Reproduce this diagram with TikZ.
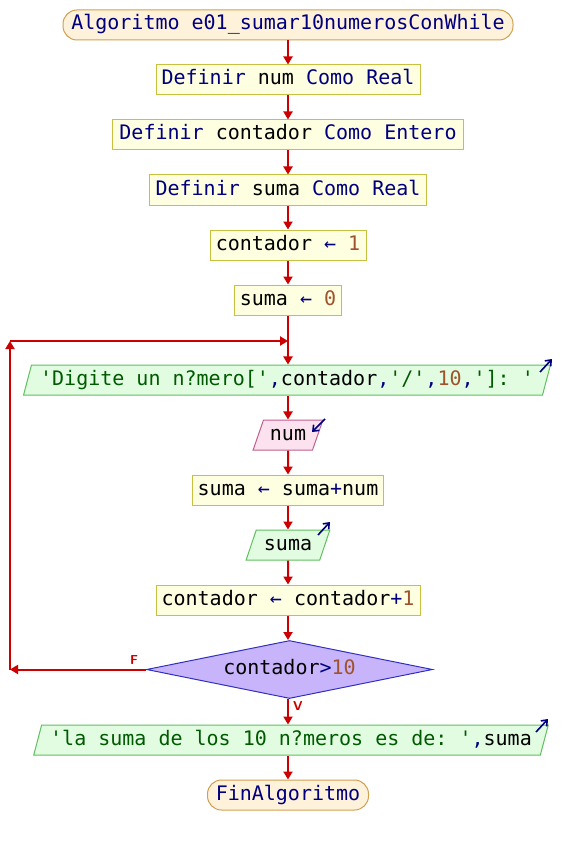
\documentclass[tikz,border=0pt]{standalone}
\usepackage{fontspec}
\setmonofont{DejaVu Sans Mono}
\usetikzlibrary{arrows.meta,shapes.geometric}

\definecolor{kwcol}{HTML}{00007F}
\definecolor{numcol}{HTML}{A0522D}
\definecolor{strcol}{HTML}{005A00}
\definecolor{flowcol}{HTML}{CC0000}
\definecolor{procfill}{HTML}{FEFEE0}
\definecolor{procline}{HTML}{C8C040}
\definecolor{termfill}{HTML}{FEF2DA}
\definecolor{termline}{HTML}{D0A050}
\definecolor{outfill}{HTML}{E2FCE2}
\definecolor{outline}{HTML}{60C060}
\definecolor{infill}{HTML}{FCE2EE}
\definecolor{inline}{HTML}{C06090}
\definecolor{decfill}{HTML}{C8B4FA}
\definecolor{decline}{HTML}{3030C0}

% token colouring for pseudo-code
\newcommand{\kw}[1]{\textcolor{kwcol}{#1}}
\newcommand{\nm}[1]{\textcolor{numcol}{#1}}
\newcommand{\str}[1]{\textcolor{strcol}{#1}}
\newcommand{\vr}[1]{\textcolor{black}{#1}}

\tikzset{
  base/.style={font=\ttfamily\fontsize{20}{24}\selectfont, inner sep=0pt, minimum height=30, text height=14, text depth=4},
  procbox/.style={base, draw=procline, fill=procfill, line width=1},
  termbox/.style={base, draw=termline, fill=termfill, line width=1, rounded corners=14},
  outbox/.style={base, shape=trapezium, trapezium left angle=67, trapezium right angle=113,
    trapezium stretches=true, draw=outline, fill=outfill, line width=1},
  inbox/.style={base, shape=trapezium, trapezium left angle=67, trapezium right angle=113,
    trapezium stretches=true, draw=inline, fill=infill, line width=1},
  decbox/.style={base, shape=diamond, aspect=5, draw=decline, fill=decfill, line width=1},
  flow/.style={draw=flowcol, line width=2, -{Triangle[length=8,width=9]}},
  ioarrow/.style={draw=kwcol, line width=1.6, -{Straight Barb[length=5,width=8]}},
  branch/.style={text=flowcol, font=\sffamily\bfseries\fontsize{13}{15}\selectfont, inner sep=0pt}
}

\begin{document}
\begin{tikzpicture}[x=1pt, y=-1pt]
\useasboundingbox[fill=white] (0,0) rectangle (576,845);

% nodes of the flowchart
\node[termbox, minimum width=450] (start) at (288,25) {\kw{Algoritmo e01\_sumar10numerosConWhile}};
\node[procbox, minimum width=264] (d1) at (288,80) {\kw{Definir} \vr{num} \kw{Como Real}};
\node[procbox, minimum width=351] (d2) at (288,135) {\kw{Definir} \vr{contador} \kw{Como Entero}};
\node[procbox, minimum width=277] (d3) at (288,190) {\kw{Definir} \vr{suma} \kw{Como Real}};
\node[procbox, minimum width=156] (a1) at (288,245) {\vr{contador} \kw{←} \nm{1}};
\node[procbox, minimum width=107] (a2) at (288,300) {\vr{suma} \kw{←} \nm{0}};
\node[outbox, minimum width=530] (o1) at (287,380) {\str{'Digite un n?mero['}\kw{,}\vr{contador}\kw{,}\str{'/'}\kw{,}\nm{10}\kw{,}\str{']:~'}};
\node[inbox, minimum width=70] (i1) at (288,435) {\vr{num}};
\node[procbox, minimum width=191] (a3) at (288,490) {\vr{suma} \kw{←} \vr{suma}\kw{+}\vr{num}};
\node[outbox, minimum width=84] (o2) at (288,545) {\vr{suma}};
\node[procbox, minimum width=264] (a4) at (288,600) {\vr{contador} \kw{←} \vr{contador}\kw{+}\nm{1}};
\node[decbox, minimum width=286, minimum height=58] (q) at (289.5,669.5) {\vr{contador}\kw{>}\nm{10}};
\node[outbox, minimum width=518] (o3) at (291,740) {\str{'la suma de los 10 n?meros es de:~'}\kw{,}\vr{suma}};
\node[termbox, minimum width=161] (stop) at (288,795) {\kw{FinAlgoritmo}};

% loop corners
\coordinate (lpA) at (10,669.5);
\coordinate (lpB) at (10,341);
\coordinate (lpC) at (288,341);

% main flow
\draw[flow] (start) -- (d1);
\draw[flow] (d1) -- (d2);
\draw[flow] (d2) -- (d3);
\draw[flow] (d3) -- (a1);
\draw[flow] (a1) -- (a2);
\draw[flow] (a2.south) -- (a2.south |- o1.north);
\draw[flow] (o1.south -| i1.north) -- (i1.north);
\draw[flow] (i1) -- (a3);
\draw[flow] (a3) -- (o2);
\draw[flow] (o2) -- (a4);
\draw[flow] (a4.south) -- (a4.south |- q.north);
\draw[flow] (288,0 |- q.south) -- (288,0 |- o3.north);
\draw[flow] (288,0 |- o3.south) -- (stop.north);

% loop back on false
\draw[flow] (q.west) -- (lpA);
\draw[flow] (lpA) -- (lpB);
\draw[flow] (lpB) -- (lpC);

% branch labels
\node[branch] (lf) at (134,660) {F};
\node[branch] (lv) at (298,706) {V};

% input / output markers
\coordinate (m1a) at (540,372);
\coordinate (m1b) at (552,359);
\draw[ioarrow] (m1a) -- (m1b);
\coordinate (m2a) at (325,419);
\coordinate (m2b) at (312,432);
\draw[ioarrow] (m2a) -- (m2b);
\coordinate (m3a) at (318,535);
\coordinate (m3b) at (330,522);
\draw[ioarrow] (m3a) -- (m3b);
\coordinate (m4a) at (536,732);
\coordinate (m4b) at (548,719);
\draw[ioarrow] (m4a) -- (m4b);
\end{tikzpicture}
\end{document}
